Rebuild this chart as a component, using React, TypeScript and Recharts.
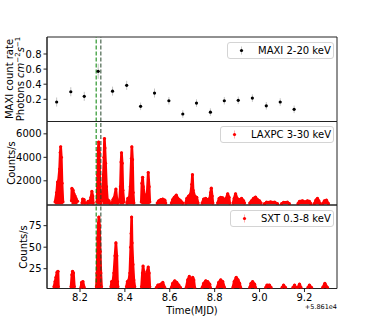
import React from 'react';
import { Area, ComposedChart, ErrorBar, ReferenceArea, ReferenceLine, Scatter, XAxis, YAxis } from 'recharts';

// page size and plot frame (pixels)
const W = 376;
const H = 329;
const PLOT_L = 47;
const PLOT_R = 337;
const FONT = '"DejaVu Sans", sans-serif';

// shared time axis (MJD - 58610)
const timeDomain = [8.053, 9.345];
const timeTicks = [8.2, 8.4, 8.6, 8.8, 9.0, 9.2];
const eventTimes = [8.272, 8.293];

// MAXI 2-20 keV
const maxiTime = [8.096, 8.159, 8.219, 8.281, 8.345, 8.408, 8.47, 8.532, 8.596, 8.658, 8.719, 8.781, 8.843, 8.905, 8.968, 9.03, 9.092, 9.154];
const maxiRate = [0.164, 0.3, 0.239, 0.571, 0.308, 0.385, 0.107, 0.283, 0.181, 0.005, 0.15, 0.03, 0.181, 0.186, 0.216, 0.114, 0.164, 0.067];
const maxiErr = [0.06, 0.06, 0.06, 0.1, 0.06, 0.06, 0.05, 0.06, 0.05, 0.05, 0.05, 0.05, 0.05, 0.05, 0.05, 0.05, 0.05, 0.05];

// LAXPC 3-30 keV, one list per orbit
const laxpcTime = [
  [8.089, 8.096, 8.1, 8.104, 8.109, 8.112, 8.114, 8.117, 8.12, 8.124],
  [8.162, 8.164, 8.169, 8.173, 8.178, 8.182, 8.189],
  [8.209, 8.212, 8.218, 8.222],
  [8.233, 8.236, 8.24, 8.244, 8.249, 8.253, 8.257, 8.259],
  [8.276, 8.279, 8.281, 8.283, 8.286, 8.289, 8.292],
  [8.3, 8.304, 8.307, 8.309, 8.311, 8.314, 8.318, 8.322, 8.329, 8.333],
  [8.342, 8.347, 8.353, 8.36, 8.364, 8.368],
  [8.376, 8.38, 8.383, 8.385, 8.388, 8.391, 8.396],
  [8.409, 8.413, 8.42, 8.424, 8.429, 8.431, 8.434, 8.437, 8.44],
  [8.473, 8.476, 8.479, 8.482, 8.487, 8.493, 8.499, 8.504, 8.508, 8.511],
  [8.544, 8.551, 8.56, 8.569, 8.578, 8.582],
  [8.607, 8.613, 8.62, 8.629, 8.636, 8.642, 8.649, 8.658],
  [8.671, 8.676, 8.684, 8.693, 8.698, 8.701, 8.704, 8.711, 8.72, 8.726],
  [8.744, 8.751, 8.76, 8.769, 8.778, 8.782, 8.785, 8.789, 8.792],
  [8.813, 8.82, 8.827, 8.836, 8.844, 8.851, 8.858, 8.864, 8.867],
  [8.882, 8.887, 8.893, 8.9, 8.911, 8.92, 8.929, 8.933],
  [8.956, 8.964, 8.973, 8.982, 8.991, 9.0, 9.007],
  [9.022, 9.031, 9.049, 9.067, 9.08],
  [9.098, 9.107, 9.124, 9.133],
  [9.171, 9.178, 9.191, 9.204, 9.213, 9.222, 9.229],
  [9.244, 9.251, 9.258, 9.264, 9.27],
  [9.281, 9.289, 9.298, 9.307],
];
const laxpcRate = [
  [200, 1000, 1900, 2000, 3000, 4400, 4900, 4000, 1800, 200],
  [300, 1350, 1200, 900, 700, 500, 250],
  [100, 450, 400, 100],
  [100, 250, 200, 300, 600, 1100, 700, 100],
  [200, 2500, 4600, 5300, 4400, 1500, 100],
  [300, 2500, 4000, 5600, 4800, 3500, 1500, 400, 300, 100],
  [100, 400, 600, 1300, 500, 100],
  [200, 1500, 3600, 4380, 3500, 1200, 200],
  [100, 500, 600, 1500, 3900, 4900, 3800, 1000, 100],
  [200, 1800, 2300, 1500, 800, 500, 900, 2700, 1500, 200],
  [100, 300, 400, 450, 350, 100],
  [100, 400, 600, 780, 500, 400, 300, 100],
  [100, 500, 700, 900, 1700, 2520, 1200, 700, 600, 100],
  [100, 450, 500, 400, 500, 1000, 1370, 700, 100],
  [100, 500, 600, 550, 400, 500, 900, 600, 100],
  [100, 500, 900, 500, 400, 500, 300, 100],
  [100, 300, 500, 620, 400, 300, 100],
  [50, 180, 200, 180, 50],
  [50, 170, 180, 50],
  [50, 250, 300, 200, 300, 250, 50],
  [50, 350, 500, 300, 50],
  [50, 300, 350, 50],
];

// SXT 0.3-8 keV, one list per orbit
const sxtTime = [
  [8.084, 8.089, 8.093, 8.098, 8.102, 8.104],
  [8.16, 8.164, 8.167, 8.171, 8.175],
  [8.204, 8.207, 8.213, 8.219],
  [8.273, 8.276, 8.279, 8.282, 8.284, 8.287, 8.29, 8.293, 8.296],
  [8.338, 8.341, 8.347, 8.351, 8.356, 8.36, 8.364, 8.367, 8.369],
  [8.407, 8.411, 8.418, 8.422, 8.426, 8.428, 8.43, 8.432, 8.436, 8.44, 8.444],
  [8.474, 8.478, 8.481, 8.487, 8.493, 8.499, 8.504, 8.508, 8.511],
  [8.54, 8.547, 8.56, 8.569, 8.578],
  [8.607, 8.613, 8.622, 8.631, 8.64, 8.648],
  [8.673, 8.68, 8.687, 8.693, 8.702, 8.707, 8.711],
  [8.744, 8.751, 8.76, 8.769, 8.778, 8.781],
  [8.811, 8.818, 8.827, 8.836, 8.844],
  [8.881, 8.887, 8.896, 8.904, 8.911, 8.916],
  [8.956, 8.962, 8.969, 8.978, 8.982],
  [9.027, 9.033, 9.044, 9.052],
  [9.1, 9.107, 9.116],
  [9.148, 9.156, 9.163],
  [9.17, 9.178, 9.185],
  [9.215, 9.222, 9.232],
  [9.281, 9.291, 9.303],
];
const sxtRate = [
  [4, 10, 15, 21, 22, 4],
  [4, 18, 22, 20, 4],
  [3, 9, 10, 3],
  [4, 20, 60, 78, 85, 75, 45, 20, 4],
  [4, 10, 11, 20, 40, 55, 40, 10, 4],
  [4, 10, 12, 20, 50, 66, 85, 55, 30, 12, 4],
  [4, 20, 28, 18, 15, 22, 27, 20, 4],
  [3, 6, 7, 9, 3],
  [3, 8, 11, 9, 6, 3],
  [3, 12, 16, 10, 15, 12, 3],
  [3, 8, 11, 10, 7, 3],
  [3, 9, 12, 10, 3],
  [3, 10, 15, 12, 8, 3],
  [3, 8, 10, 7, 3],
  [3, 6, 6, 3],
  [3, 6, 3],
  [3, 6, 3],
  [3, 7, 3],
  [3, 6, 3],
  [3, 8, 3],
];

type Row = { t: number; v: number | null; e?: number };

// flatten orbits, with a null row after each one so the area breaks
const buildRows = (times: number[][], rates: number[][]): Row[] => {
  const rows: Row[] = [];
  times.forEach((seg, i) => {
    seg.forEach((t, j) => rows.push({ t, v: rates[i][j] }));
    rows.push({ t: seg[seg.length - 1] + 0.001, v: null });
  });
  return rows;
};

const maxiRows: Row[] = maxiTime.map((t, i) => ({ t, v: maxiRate[i], e: maxiErr[i] }));
const laxpcRows = buildRows(laxpcTime, laxpcRate);
const sxtRows = buildRows(sxtTime, sxtRate);

const tickStyle = { fontSize: 10, fill: '#000', fontFamily: FONT };

const dot = (color: string, r: number) => (p: any) => <circle cx={p.cx} cy={p.cy} r={r} fill={color} />;

type PanelProps = {
  top: number;
  bottom: number;
  yDomain: number[];
  yTicks: number[];
  showX?: boolean;
  children: React.ReactNode;
  data: Row[];
};

const Panel = ({ top, bottom, yDomain, yTicks, showX, children, data }: PanelProps) => (
  <div style={{ position: 'absolute', left: 0, top: 0 }}>
    <ComposedChart
      width={W}
      height={H}
      data={data}
      margin={{ top, right: W - PLOT_R, bottom: showX ? H - bottom - 30 : H - bottom, left: PLOT_L - 40 }}
    >
      <XAxis
        type="number"
        dataKey="t"
        domain={timeDomain}
        ticks={timeTicks}
        interval={0}
        allowDataOverflow
        hide={!showX}
        height={30}
        tickSize={3.5}
        tickMargin={1.5}
        tick={tickStyle}
        tickLine={{ stroke: '#222' }}
        axisLine={{ stroke: '#222' }}
        tickFormatter={(v: number) => v.toFixed(1)}
      />
      <YAxis
        type="number"
        dataKey="v"
        domain={yDomain}
        ticks={yTicks}
        interval={0}
        allowDataOverflow
        width={40}
        tickSize={3.5}
        tickMargin={2}
        tick={tickStyle}
        tickLine={{ stroke: '#222' }}
        axisLine={{ stroke: '#222' }}
      />
      {children}
      {eventTimes.map((t, i) => (
        <ReferenceLine key={t} x={t} stroke={i === 0 ? '#008000' : '#24452a'} strokeDasharray="4 2" strokeWidth={1} />
      ))}
      <ReferenceArea
        x1={timeDomain[0]}
        x2={timeDomain[1]}
        y1={yDomain[0]}
        y2={yDomain[1]}
        fill="none"
        stroke="#222"
        strokeWidth={1}
        ifOverflow="visible"
      />
    </ComposedChart>
  </div>
);

const LegendBox = ({ top, left, width, color, bar, label }: { top: number; left: number; width: number; color: string; bar: string; label: string }) => (
  <div
    style={{
      position: 'absolute',
      top,
      left,
      width,
      height: 17,
      boxSizing: 'border-box',
      border: '1px solid #d4d4d4',
      borderRadius: 3,
      background: 'rgba(255,255,255,0.8)',
      fontFamily: FONT,
      fontSize: 10,
      display: 'flex',
      alignItems: 'center',
    }}
  >
    <svg width={30} height={15} style={{ flex: 'none' }}>
      <line x1={13.5} x2={13.5} y1={3.5} y2={11.5} stroke={bar} strokeWidth={1} />
      <circle cx={13.5} cy={7.5} r={1.6} fill={color} />
    </svg>
    <span style={{ whiteSpace: 'nowrap' }}>{label}</span>
  </div>
);

const redArea = (
  <Area dataKey="v" type="linear" stroke="#ff0000" strokeWidth={2.6} strokeLinejoin="round" fill="#ff0000" fillOpacity={1} connectNulls={false} dot={false} activeDot={false} isAnimationActive={false} />
);

export default function App() {
  return (
    <div style={{ position: 'fixed', left: 0, top: 0, width: W, height: H, background: '#fff', overflow: 'hidden' }}>
      <Panel top={37} bottom={121.5} yDomain={[-0.094, 1.025]} yTicks={[0.2, 0.4, 0.6, 0.8]} data={maxiRows}>
        <Scatter dataKey="v" shape={dot('#000', 1.6)} isAnimationActive={false}>
          <ErrorBar dataKey="e" direction="y" width={0} stroke="#c4c4c4" strokeWidth={1} />
        </Scatter>
      </Panel>
      <Panel top={121.5} bottom={205} yDomain={[-60, 7050]} yTicks={[2000, 4000, 6000]} data={laxpcRows}>
        {redArea}
        <Scatter data={laxpcRows.filter((r) => r.v !== null)} dataKey="v" shape={dot('#ff0000', 1.6)} isAnimationActive={false} />
      </Panel>
      <Panel top={205} bottom={288.5} yDomain={[2, 99]} yTicks={[25, 50, 75]} data={sxtRows} showX>
        {redArea}
        <Scatter data={sxtRows.filter((r) => r.v !== null)} dataKey="v" shape={dot('#ff0000', 1.6)} isAnimationActive={false} />
      </Panel>

      <LegendBox top={42} left={227} width={107} color="#000" bar="#c4c4c4" label="MAXI 2-20 keV" />
      <LegendBox top={126} left={220} width={114} color="#ff0000" bar="#ffb0b0" label="LAXPC 3-30 keV" />
      <LegendBox top={210} left={230} width={104} color="#ff0000" bar="#ffb0b0" label="SXT 0.3-8 keV" />

      <svg width={W} height={H} style={{ position: 'absolute', left: 0, top: 0, pointerEvents: 'none' }}>
        <g fontFamily={FONT} fontSize={10} fill="#000" textAnchor="middle">
          <text transform="translate(13,79) rotate(-90)">MAXI count rate</text>
          <text transform="translate(24,79) rotate(-90)">
            Photons <tspan fontStyle="italic">cm</tspan>
            <tspan fontSize={7} dy={-4}>−2</tspan>
            <tspan fontStyle="italic" dy={4}>s</tspan>
            <tspan fontSize={7} dy={-4}>−1</tspan>
          </text>
          <text transform="translate(15,163) rotate(-90)">Counts/s</text>
          <text transform="translate(27,247) rotate(-90)">Counts/s</text>
          <text x={192} y={314}>Time(MJD)</text>
          <text x={337} y={309} fontSize={6.5} textAnchor="end">+5.861e4</text>
        </g>
      </svg>
    </div>
  );
}
